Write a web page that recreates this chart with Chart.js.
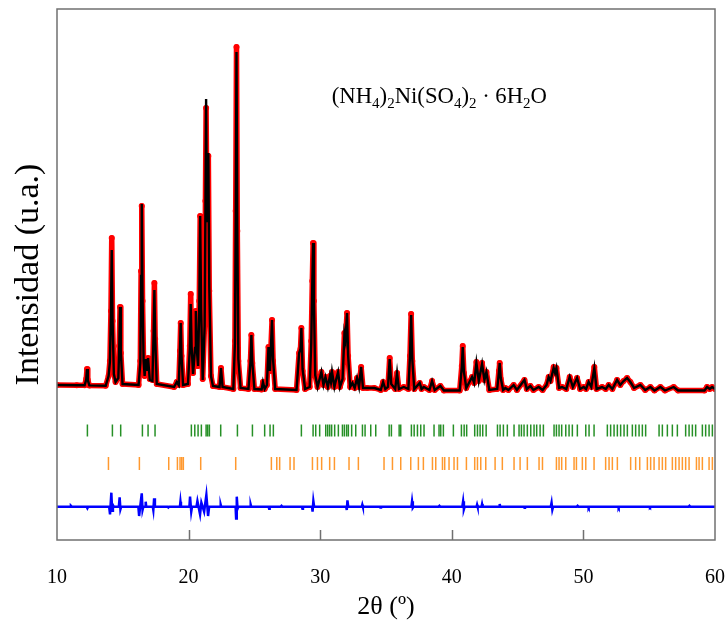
<!DOCTYPE html>
<html>
<head>
<meta charset="utf-8">
<script src="https://cdn.jsdelivr.net/npm/chart.js@4.4.1/dist/chart.umd.min.js"></script>
<style>
  html, body { margin: 0; padding: 0; background: #fff; }
  canvas { display: block; }
</style>
</head>
<body>
<canvas id="xrdChart" width="727" height="621"></canvas>
<script>
// observed / calculated profile (2theta, counts a.u.)
var twoTheta = [
  10.00, 11.50, 12.10, 12.22, 12.28, 12.34, 12.46, 13.70, 13.92, 14.02, 14.10, 14.16, 14.22, 14.32, 14.45,
  14.66, 14.73, 14.79, 14.85, 14.98, 16.20, 16.33, 16.39, 16.44, 16.50, 16.58, 16.66, 16.74, 16.83, 16.92,
  17.05, 17.25, 17.34, 17.40, 17.46, 17.58, 18.90, 19.10, 19.25, 19.34, 19.40, 19.46, 19.58, 19.95, 20.09,
  20.16, 20.23, 20.34, 20.49, 20.55, 20.62, 20.72, 20.81, 20.88, 20.95, 21.07, 21.22, 21.28, 21.33, 21.40,
  21.45, 21.50, 21.57, 21.70, 21.85, 22.35, 22.46, 22.58, 23.40, 23.52, 23.58, 23.64, 23.70, 23.78, 23.95,
  24.55, 24.70, 24.77, 24.84, 25.00, 25.55, 25.65, 25.78, 25.95, 26.07, 26.18, 26.34, 26.42, 26.58, 28.20,
  28.40, 28.50, 28.57, 28.66, 28.85, 29.20, 29.32, 29.40, 29.46, 29.52, 29.62, 29.80, 30.09, 30.25, 30.40,
  30.58, 30.74, 30.82, 30.90, 31.08, 31.22, 31.36, 31.50, 31.70, 31.84, 31.92, 32.04, 32.12, 32.28, 32.45,
  32.62, 32.80, 32.95, 33.11, 33.25, 33.56, 34.12, 34.60, 34.78, 34.95, 35.15, 35.28, 35.40, 35.70, 35.84,
  35.98, 36.35, 36.70, 36.82, 36.91, 37.00, 37.15, 37.56, 37.70, 37.87, 38.30, 38.50, 38.70, 39.13, 39.40,
  40.60, 40.76, 40.83, 40.92, 41.10, 41.54, 41.70, 41.87, 42.05, 42.30, 42.48, 42.63, 42.85, 43.45, 43.58,
  43.64, 43.72, 43.90, 44.07, 44.30, 44.70, 44.95, 45.52, 45.70, 45.97, 46.20, 46.60, 46.90, 47.20, 47.36,
  47.50, 47.74, 47.85, 47.95, 48.15, 48.38, 48.70, 48.96, 49.20, 49.52, 49.75, 50.02, 50.20, 50.40, 50.60,
  50.83, 51.00, 51.42, 51.70, 51.92, 52.20, 52.56, 52.80, 53.05, 53.32, 53.57, 53.85, 54.33, 54.70, 55.09,
  55.40, 55.85, 56.20, 56.86, 57.20, 59.20, 59.40, 59.60, 59.78, 60.00
]
var iObs = [
  60, 58, 58, 120, 220, 110, 56, 52, 150, 300, 800, 1530, 700, 180, 90,
  130, 450, 840, 380, 70, 60, 300, 1200, 1850, 900, 280, 150, 320, 200, 330,
  120, 110, 600, 1080, 520, 70, 40, 90, 60, 400, 680, 350, 60, 70, 450,
  970, 420, 180, 450, 800, 400, 250, 900, 1750, 800, 120, 700, 1900, 2830, 1600,
  1900, 2350, 1000, 150, 50, 40, 230, 40, 20, 500, 1800, 3440, 1600, 300, 30,
  20, 300, 560, 280, 20, 15, 90, 20, 60, 440, 200, 710, 300, 20, 10,
  380, 420, 630, 200, 20, 40, 500, 1100, 1480, 900, 150, 40, 190, 60, 140,
  40, 150, 90, 190, 40, 120, 190, 40, 120, 580, 500, 780, 350, 40, 80,
  30, 130, 40, 240, 30, 30, 30, 10, 90, 20, 40, 330, 60, 20, 180,
  20, 40, 20, 350, 770, 300, 20, 80, 20, 40, 10, 100, 10, 50, 5,
  5, 250, 450, 180, 30, 140, 80, 290, 100, 280, 110, 190, 10, 20, 200,
  280, 120, 10, 30, 10, 60, 10, 110, 20, 50, 10, 40, 10, 60, 140,
  100, 240, 180, 230, 30, 40, 20, 140, 40, 130, 20, 40, 20, 90, 40,
  240, 20, 40, 20, 60, 20, 110, 60, 100, 130, 90, 30, 60, 10, 40,
  5, 40, 5, 40, 5, 5, 40, 20, 40, 20
]
var iCalc = [
  60, 58, 58, 115, 220, 110, 56, 52, 150, 290, 780, 1410, 720, 170, 90,
  130, 440, 840, 390, 70, 60, 280, 1150, 1870, 950, 300, 150, 320, 200, 330,
  110, 100, 580, 1010, 540, 70, 40, 90, 60, 380, 680, 360, 60, 70, 420,
  870, 440, 170, 430, 800, 420, 250, 850, 1750, 820, 110, 650, 1850, 2920, 1700,
  1950, 2380, 1050, 150, 50, 40, 230, 40, 20, 480, 1750, 3390, 1650, 320, 30,
  20, 290, 560, 290, 20, 15, 90, 20, 60, 440, 200, 710, 310, 20, 10,
  380, 420, 630, 220, 20, 40, 480, 1080, 1480, 920, 160, 40, 190, 60, 140,
  40, 150, 90, 190, 40, 120, 190, 40, 120, 570, 510, 780, 360, 40, 80,
  30, 130, 40, 240, 30, 30, 30, 10, 90, 20, 40, 320, 70, 20, 180,
  20, 40, 20, 340, 760, 310, 20, 80, 20, 40, 10, 100, 10, 50, 5,
  5, 240, 440, 190, 30, 140, 80, 280, 100, 270, 110, 190, 10, 20, 190,
  280, 130, 10, 30, 10, 60, 10, 110, 20, 50, 10, 40, 10, 60, 140,
  100, 230, 180, 230, 30, 40, 20, 140, 40, 130, 20, 40, 20, 90, 40,
  230, 20, 40, 20, 60, 20, 110, 60, 100, 130, 90, 30, 60, 10, 40,
  5, 40, 5, 40, 5, 5, 40, 20, 40, 20
]

// difference curve Iobs - Icalc
var diffTheta = [
  10.00, 11.00, 11.06, 11.12, 12.25, 12.31, 12.37, 13.96, 14.03, 14.13, 14.19, 14.25, 14.31, 14.70, 14.76,
  14.82, 14.88, 16.18, 16.24, 16.44, 16.50, 16.56, 16.70, 16.74, 16.78, 17.28, 17.32, 17.38, 17.44, 18.40,
  18.46, 18.52, 19.34, 19.38, 19.42, 20.06, 20.11, 20.20, 20.26, 20.60, 20.67, 20.87, 20.97, 21.18, 21.35,
  21.48, 21.56, 22.40, 22.44, 22.48, 23.57, 23.61, 23.66, 23.72, 23.78, 24.68, 24.72, 24.76, 26.08, 26.12,
  26.16, 27.00, 27.06, 27.12, 28.61, 28.65, 28.69, 29.38, 29.42, 29.48, 29.54, 31.97, 32.02, 32.07, 32.13,
  33.16, 33.20, 33.24, 34.50, 34.56, 34.62, 36.93, 36.98, 37.04, 37.09, 39.00, 39.06, 39.12, 40.80, 40.86,
  40.92, 40.98, 41.88, 41.92, 41.96, 42.26, 42.30, 42.34, 43.60, 43.64, 43.68, 45.48, 45.52, 45.56, 47.52,
  47.58, 47.64, 47.70, 49.50, 49.56, 49.62, 50.36, 50.40, 50.44, 52.64, 52.68, 52.72, 55.00, 55.06, 55.12,
  58.00, 58.06, 58.12, 60.00
]
var iDiff = [
  0, 0, 8, 0, 0, -15, 0, 0, -76, 140, -40, 15, 0, 0, 94,
  -26, 0, 0, -93, 134, -33, 0, 0, 50, 0, 0, -33, 84, 0, 0,
  -8, 0, 0, 50, 0, 0, 100, -50, 0, 0, 56, -77, 40, -50, 117,
  -93, 0, 0, 20, 0, 0, -117, 100, -20, 0, 0, 20, 0, 0, -20,
  0, 0, 8, 0, 0, -20, 0, 0, -50, 56, 0, 0, -33, 63, 0,
  0, 20, 0, 0, -8, 0, 0, 54, -10, 0, 0, 8, 0, 0, 54,
  -26, 0, 0, 20, 0, 0, 26, 0, 0, 26, 0, 0, -10, 0, 0,
  40, -30, 0, 0, 8, 0, 0, -10, 0, 0, -10, 0, 0, -8, 0,
  0, 8, 0, 0
]

// Bragg reflection positions of the two phases
var braggGreen = [
  12.31, 14.21, 14.84, 16.49, 16.92, 17.45, 20.21, 20.47, 20.72, 20.97, 21.33, 21.45, 21.58, 22.44,
  23.71, 24.85, 25.78, 26.19, 26.44, 28.57, 29.46, 29.66, 29.96, 30.42, 30.57, 30.72, 30.87, 31.10,
  31.38, 31.69, 31.84, 32.01, 32.14, 32.39, 32.70, 33.21, 33.41, 33.84, 34.22, 35.24, 35.41, 36.00,
  36.12, 36.93, 37.14, 37.39, 37.64, 37.89, 38.65, 39.03, 39.16, 39.36, 40.12, 40.73, 40.94, 41.13,
  41.74, 41.95, 42.15, 42.35, 42.61, 43.47, 43.67, 43.92, 44.22, 44.73, 45.11, 45.29, 45.49, 45.74,
  46.00, 46.25, 46.45, 46.71, 46.96, 47.77, 47.95, 48.15, 48.35, 48.66, 48.91, 49.16, 49.54, 50.18,
  50.43, 50.81, 51.82, 52.07, 52.33, 52.58, 52.83, 53.09, 53.34, 53.72, 53.97, 54.23, 54.48, 54.73,
  55.75, 56.00, 56.38, 56.76, 57.14, 57.77, 58.03, 58.28, 58.53, 59.04, 59.29, 59.55, 59.80
]
var braggOrange = [
  13.91, 16.26, 18.49, 19.15, 19.35, 19.48, 19.60, 20.92, 23.58, 26.29, 26.70, 26.92, 27.71, 28.01,
  29.41, 29.79, 30.11, 30.72, 31.08, 32.19, 32.90, 34.85, 35.49, 36.12, 36.88, 37.46, 37.84, 38.53,
  38.78, 39.29, 39.46, 39.79, 40.17, 40.43, 41.11, 41.74, 41.95, 42.20, 42.58, 43.29, 43.84, 44.73,
  45.19, 45.74, 46.63, 46.89, 47.95, 48.15, 48.35, 48.66, 49.29, 49.47, 49.92, 50.18, 50.81, 51.69,
  51.95, 52.20, 52.58, 53.59, 53.97, 54.28, 54.86, 55.11, 55.37, 55.75, 56.00, 56.25, 56.76, 57.01,
  57.27, 57.52, 57.77, 58.03, 58.59, 58.79, 59.04, 59.55, 59.80
]

var xTicks = [10, 20, 30, 40, 50, 60]

// vertical placement of the lower panels (same a.u. as the profile)
var greenRow = -395
var orangeRow = -725
var diffZero = -1157

function toPoints(xs, ys, shift) {
  var pts = []
  for (var i = 0; i < xs.length; i++) {
    pts.push({ x: xs[i], y: (ys ? ys[i] : 0) + (shift || 0) })
  }
  return pts
}

var serif = "'Liberation Serif', 'Times New Roman', serif"

// frame, inward ticks and the formula label
var framePlugin = {
  id: "frame",
  afterDraw: function (chart) {
    var ctx = chart.ctx
    var a = chart.chartArea
    var xs = chart.scales.x
    var ys = chart.scales.y
    ctx.save()
    ctx.strokeStyle = "#707070"
    ctx.lineWidth = 1.5
    ctx.strokeRect(a.left, a.top, a.right - a.left, a.bottom - a.top)
    ctx.beginPath()
    for (var i = 1; i < xTicks.length - 1; i++) {
      var px = Math.round(xs.getPixelForValue(xTicks[i])) + 0.5
      ctx.moveTo(px, a.bottom)
      ctx.lineTo(px, a.bottom - 10)
    }
    ctx.stroke()

    // (NH4)2Ni(SO4)2 · 6H2O
    var parts = [["(NH", 0], ["4", 1], [")", 0], ["2", 1], ["Ni(SO", 0], ["4", 1], [")", 0], ["2", 1], [" \u00b7 6H", 0], ["2", 1], ["O", 0]]
    var x = xs.getPixelForValue(30.88)
    var y = ys.getPixelForValue(2880)
    ctx.fillStyle = "#000"
    ctx.textBaseline = "alphabetic"
    for (var j = 0; j < parts.length; j++) {
      var sub = parts[j][1] === 1
      ctx.font = (sub ? "15px " : "22.7px ") + serif
      ctx.fillText(parts[j][0], x, sub ? y + 5 : y)
      x += ctx.measureText(parts[j][0]).width
    }
    ctx.restore()
  }
}

var myChart = document.getElementById("xrdChart").getContext("2d")
var chart = new Chart(myChart, {
  type: "scatter",
  data: {
    datasets: [{
      label: "Icalc",
      data: toPoints(twoTheta, iCalc),
      showLine: true,
      borderColor: "#000",
      borderWidth: 2.4,
      pointRadius: 0,
      order: 0
    }, {
      label: "Iobs",
      data: toPoints(twoTheta, iObs),
      showLine: true,
      borderColor: "#ff0000",
      borderWidth: 5.5,
      borderJoinStyle: "round",
      borderCapStyle: "round",
      pointRadius: 3,
      pointBackgroundColor: "#ff0000",
      pointBorderWidth: 0,
      order: 1
    }, {
      label: "phase 1",
      data: toPoints(braggGreen, null, greenRow),
      pointStyle: "line",
      rotation: 90,
      pointRadius: 6,
      borderColor: "rgba(0,125,0,0.85)",
      borderWidth: 1.5,
      order: 2
    }, {
      label: "phase 2",
      data: toPoints(braggOrange, null, orangeRow),
      pointStyle: "line",
      rotation: 90,
      pointRadius: 6.5,
      borderColor: "rgba(255,135,10,0.85)",
      borderWidth: 1.5,
      order: 3
    }, {
      label: "Iobs-Icalc",
      data: toPoints(diffTheta, iDiff, diffZero),
      showLine: true,
      borderColor: "#0000ff",
      borderWidth: 2.5,
      pointRadius: 0,
      order: 4
    }]
  },
  options: {
    responsive: false,
    animation: false,
    devicePixelRatio: 1,
    layout: { padding: { top: 9, right: 0, bottom: 0, left: 0 } },
    plugins: {
      legend: { display: false },
      tooltip: { enabled: false }
    },
    scales: {
      x: {
        type: "linear",
        min: 10,
        max: 60,
        afterBuildTicks: function (scale) {
          scale.ticks = xTicks.map(function (v) { return { value: v } })
        },
        afterFit: function (scale) {
          scale.height = 81
          scale.paddingRight = 12
        },
        grid: { display: false, drawTicks: false },
        border: { display: false },
        ticks: {
          padding: 26,
          color: "#000",
          font: { family: serif, size: 20 }
        },
        title: {
          display: true,
          text: "2\u03b8 (\u00ba)",
          color: "#000",
          font: { family: serif, size: 26, lineHeight: 1 },
          padding: { top: 0, bottom: 1 }
        }
      },
      y: {
        type: "linear",
        min: -1490,
        max: 3820,
        grid: { display: false, drawTicks: false },
        border: { display: false },
        ticks: { display: false },
        title: {
          display: true,
          text: "Intensidad (u.a.)",
          color: "#000",
          font: { family: serif, size: 34, lineHeight: 1 },
          padding: { top: 12, bottom: 11 }
        }
      }
    }
  },
  plugins: [framePlugin]
})
</script>
</body>
</html>
